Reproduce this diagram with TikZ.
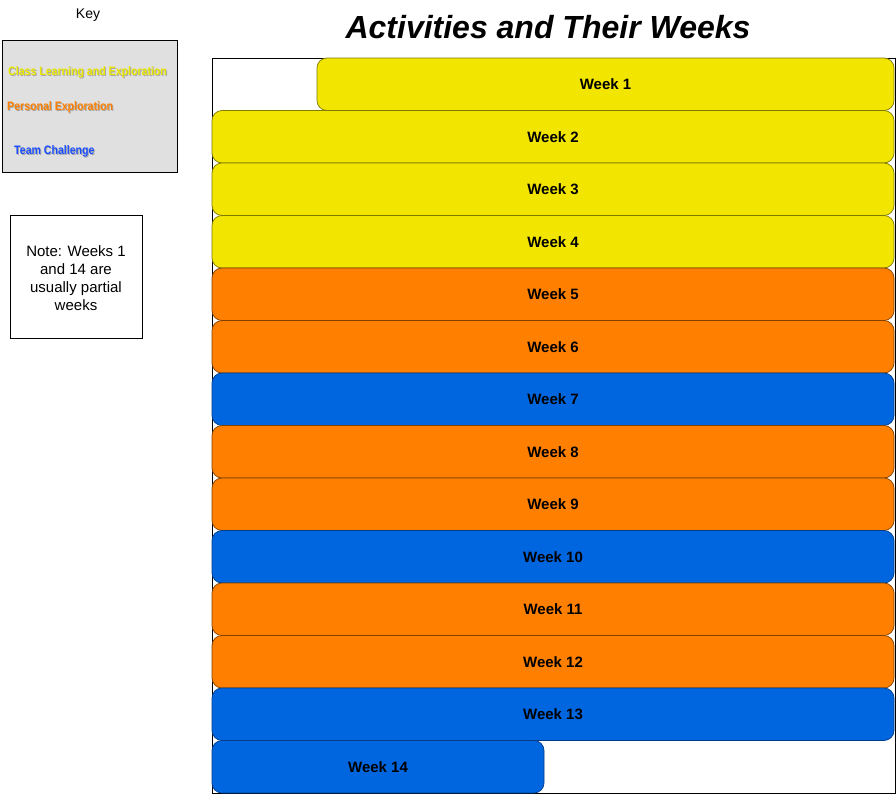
\documentclass[tikz,border=0pt]{standalone}
\usepackage{fontspec}
\setmainfont{Liberation Sans}
\newfontfamily\narrowfont[FakeStretch=0.86]{Liberation Sans}
\definecolor{wkyellow}{HTML}{F2E500}
\definecolor{wkorange}{HTML}{FF8000}
\definecolor{wkblue}{HTML}{0066E0}
\definecolor{edgeyellow}{HTML}{7F7A00}
\definecolor{edgeorange}{HTML}{7F4000}
\definecolor{edgeblue}{HTML}{003D86}
\definecolor{keyyellow}{HTML}{EAE600}
\definecolor{keyorange}{HTML}{FF8000}
\definecolor{keyblue}{HTML}{1A4DFF}
\definecolor{keyfill}{HTML}{E0E0E0}
\newcommand{\wk}[1]{\raisebox{-1pt}{#1}}
\tikzset{
  weekbar/.style={rectangle, rounded corners=10pt, line width=0.7pt, minimum height=52.5pt,
    inner sep=0pt, font=\fontsize{15}{18}\selectfont\bfseries, text=black},
  yellowbar/.style={weekbar, fill=wkyellow, draw=edgeyellow},
  orangebar/.style={weekbar, fill=wkorange, draw=edgeorange},
  bluebar/.style={weekbar, fill=wkblue, draw=edgeblue},
  keytext/.style={anchor=west, inner sep=0pt, font=\narrowfont\fontsize{12.3}{14}\selectfont\bfseries},
  keyshadow/.style={keytext, text=black, opacity=0.25},
}
\begin{document}
\begin{tikzpicture}[x=1pt,y=-1pt]
\useasboundingbox (0,0) rectangle (896,795);
\fill[white] (0,0) rectangle (896,795);

% title
\node[font=\fontsize{32}{36}\selectfont\bfseries\itshape] (title) at (548,27) {Activities and Their Weeks};

% key
\node[font=\fontsize{14}{16}\selectfont] (keylabel) at (88,15.5) {Key};
\node[draw=black, fill=keyfill, line width=0.8pt, minimum width=175pt, minimum height=132pt, inner sep=0pt] (keybox) at (89.5,106) {};
\node[keyshadow] at (9,73.2) {Class Learning and Exploration};
\node[keytext, text=keyyellow] (kclass) at (8,72) {Class Learning and Exploration};
\node[keyshadow] at (8,108.2) {Personal Exploration};
\node[keytext, text=keyorange] (kpers) at (7,107) {Personal Exploration};
\node[keyshadow] at (15,152.2) {Team Challenge};
\node[keytext, text=keyblue] (kteam) at (14,151) {Team Challenge};

% note
\node[draw=black, line width=0.7pt, minimum width=132pt, minimum height=123pt, inner sep=0pt] (note) at (76,276.5) {};
\node[align=center, font=\fontsize{15}{18}\selectfont] (notetext) at (76,278.5)
  {Note: Weeks 1\\and 14 are\\usually partial\\weeks};

% frame
\node[draw=black, line width=0.8pt, minimum width=683pt, minimum height=735pt, inner sep=0pt] (frame) at (553.5,425.5) {};

% week bars
\node[yellowbar, minimum width=577pt] (w1) at (605.5,84.25) {\wk{Week 1}};
\node[yellowbar, minimum width=682pt] (w2) at (553,136.75) {\wk{Week 2}};
\node[yellowbar, minimum width=682pt] (w3) at (553,189.25) {\wk{Week 3}};
\node[yellowbar, minimum width=682pt] (w4) at (553,241.75) {\wk{Week 4}};
\node[orangebar, minimum width=682pt] (w5) at (553,294.25) {\wk{Week 5}};
\node[orangebar, minimum width=682pt] (w6) at (553,346.75) {\wk{Week 6}};
\node[bluebar, minimum width=682pt] (w7) at (553,399.25) {\wk{Week 7}};
\node[orangebar, minimum width=682pt] (w8) at (553,451.75) {\wk{Week 8}};
\node[orangebar, minimum width=682pt] (w9) at (553,504.25) {\wk{Week 9}};
\node[bluebar, minimum width=682pt] (w10) at (553,556.75) {\wk{Week 10}};
\node[orangebar, minimum width=682pt] (w11) at (553,609.25) {\wk{Week 11}};
\node[orangebar, minimum width=682pt] (w12) at (553,661.75) {\wk{Week 12}};
\node[bluebar, minimum width=682pt] (w13) at (553,714.25) {\wk{Week 13}};
\node[bluebar, minimum width=332pt] (w14) at (378,766.75) {\wk{Week 14}};
\end{tikzpicture}
\end{document}
